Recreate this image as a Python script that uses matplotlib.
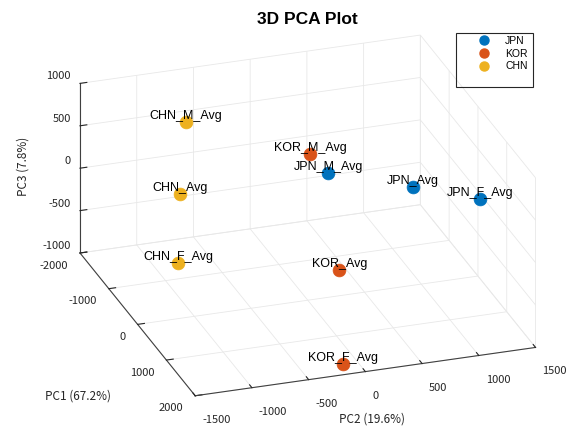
import matplotlib
matplotlib.use("Agg")
import matplotlib.pyplot as plt
import numpy as np
from matplotlib.lines import Line2D
from matplotlib.patches import Rectangle
from mpl_toolkits.mplot3d import proj3d

# ---- data -------------------------------------------------------------
groups = ["JPN", "KOR", "CHN"]
group_colors = ["#0072BD", "#D95319", "#EDB120"]

point_labels = ["JPN_Avg", "JPN_M_Avg", "JPN_F_Avg",
                "KOR_Avg", "KOR_M_Avg", "KOR_F_Avg",
                "CHN_Avg", "CHN_M_Avg", "CHN_F_Avg"]
point_groups = ["JPN", "JPN", "JPN", "KOR", "KOR", "KOR", "CHN", "CHN", "CHN"]
pc1 = [-240, -1310, 710, 470, -1540, 1890, -260, -1610, 1040]
pc2 = [985, 515, 1340, 160, 415, -165, -1060, -665, -1405]
pc3 = [50, -145, 240, -480, 0, -930, 345, 550, 145]

pc1_ticks = [-2000, -1000, 0, 1000, 2000]
pc2_ticks = [-1500, -1000, -500, 0, 500, 1000, 1500]
pc3_ticks = [-1000, -500, 0, 500, 1000]

axis_titles = ["PC1 (67.2%)", "PC2 (19.6%)", "PC3 (7.8%)"]
plot_title = "3D PCA Plot"

# ---- figure -----------------------------------------------------------
W, H = 576, 428
plt.rcParams["axes.unicode_minus"] = False
plt.rcParams["grid.color"] = "#e8e8e8"
plt.rcParams["grid.linewidth"] = 0.6
fig = plt.figure(figsize=(W / 100, H / 100), dpi=100)
fig.patch.set_facecolor("white")

ax = fig.add_axes([0, 0, 1, 1], projection="3d", proj_type="ortho",
                  computed_zorder=False)
ax.set_box_aspect((1, 1, 0.52))
ax.view_init(elev=24.8, azim=-18.7)
ax.set_xlim(pc1_ticks[0], pc1_ticks[-1])
ax.set_ylim(pc2_ticks[0], pc2_ticks[-1])
ax.set_zlim(pc3_ticks[0], pc3_ticks[-1])
ax.set_xticks(pc1_ticks)
ax.set_yticks(pc2_ticks)
ax.set_zticks(pc3_ticks)
ax.zaxis.set_ticks_position("lower")

tick_font = ["Noto Sans CJK JP", "DejaVu Sans"]
for axis in (ax.xaxis, ax.yaxis, ax.zaxis):
    axis.set_pane_color((1, 1, 1, 0))
    axis.pane.set_edgecolor("#e4e4e4")
    axis.line.set_color("#404040")
    axis.line.set_linewidth(0.8)
    axis._axinfo["tick"]["inward_factor"] = 0.0
    axis._axinfo["tick"]["outward_factor"] = 0.25
    axis._axinfo["tick"]["color"] = "#404040"
    axis._axinfo["grid"]["color"] = "#e8e8e8"
    axis._axinfo["grid"]["linewidth"] = 0.6
ax.tick_params(axis="x", labelsize=8, colors="#262626", pad=-1)
ax.tick_params(axis="y", labelsize=8, colors="#262626", pad=4)
ax.tick_params(axis="z", labelsize=8, colors="#262626", pad=-4)
for lab in ax.get_xticklabels() + ax.get_yticklabels() + ax.get_zticklabels():
    lab.set_fontfamily(tick_font)
for lab in ax.get_xticklabels():
    lab.set_horizontalalignment("right")
for lab in ax.get_yticklabels():
    lab.set_horizontalalignment("left")
for lab in ax.get_zticklabels():
    lab.set_horizontalalignment("right")
    lab.set_verticalalignment("bottom")

# ---- markers and labels ----------------------------------------------
for g, c in zip(groups, group_colors):
    idx = [i for i, pg in enumerate(point_groups) if pg == g]
    ax.scatter([pc1[i] for i in idx], [pc2[i] for i in idx],
               [pc3[i] for i in idx], s=85, color=c, depthshade=False,
               edgecolors=c, linewidths=0.5, zorder=5)

for x, y, z, s in zip(pc1, pc2, pc3, point_labels):
    ax.text(x, y, z, s, ha="center", va="bottom", fontsize=9,
            family="Liberation Sans", color="black", zorder=10)

# ---- place the plot box inside the figure ----------------------------
fig.canvas.draw()
M = ax.get_proj()


def to_px(x, y, z):
    xs, ys, _ = proj3d.proj_transform(np.array([x]), np.array([y]),
                                      np.array([z]), M)
    return ax.transData.transform(np.column_stack([xs, ys]))[0]


bb = ax.get_position().transformed(fig.transFigure)
origin = np.array([bb.x0, bb.y0])
corner_a = to_px(pc1_ticks[0], pc2_ticks[0], pc3_ticks[0])
corner_b = to_px(pc1_ticks[-1], pc2_ticks[-1], pc3_ticks[0])
target_a = np.array([80.0, H - 253.0])
target_b = np.array([535.0, H - 350.0])
scale = np.linalg.norm(target_b - target_a) / np.linalg.norm(corner_b - corner_a)
new_origin = target_a - scale * (corner_a - origin)
side = scale * bb.width
ax.set_position([new_origin[0] / W, new_origin[1] / H, side / W, side / H])

# ---- titles ----------------------------------------------------------
fig.text(307 / W, 1 - 19 / H, plot_title, ha="center", va="center",
         fontsize=12.5, fontweight="bold", family="Liberation Sans")
fig.text(78 / W, 1 - 396 / H, axis_titles[0], ha="center", va="center",
         fontsize=8.5, family=tick_font, color="#262626")
fig.text(372 / W, 1 - 419 / H, axis_titles[1], ha="center", va="center",
         fontsize=8.5, family=tick_font, color="#262626")
fig.text(23 / W, 1 - 166 / H, axis_titles[2], ha="center", va="center",
         rotation=90, fontsize=8.5, family=tick_font, color="#262626")

# ---- legend ----------------------------------------------------------
handles = [Line2D([], [], linestyle="none", marker="o", markersize=6.5,
                  markerfacecolor=c, markeredgecolor=c) for c in group_colors]
fig.legend(handles, groups, loc="upper left",
           bbox_to_anchor=(479 / W, 1 - 36 / H), frameon=False,
           handlelength=1.0, handletextpad=1.5,
           labelspacing=0.25, borderpad=0, borderaxespad=0,
           prop={"family": "Liberation Sans", "size": 7.5})
fig.patches.append(Rectangle((456 / W, 1 - 87 / H), 77 / W, 54 / H,
                             transform=fig.transFigure, fill=False,
                             edgecolor="#262626", linewidth=0.8))

fig.savefig("out.png", dpi=100)
